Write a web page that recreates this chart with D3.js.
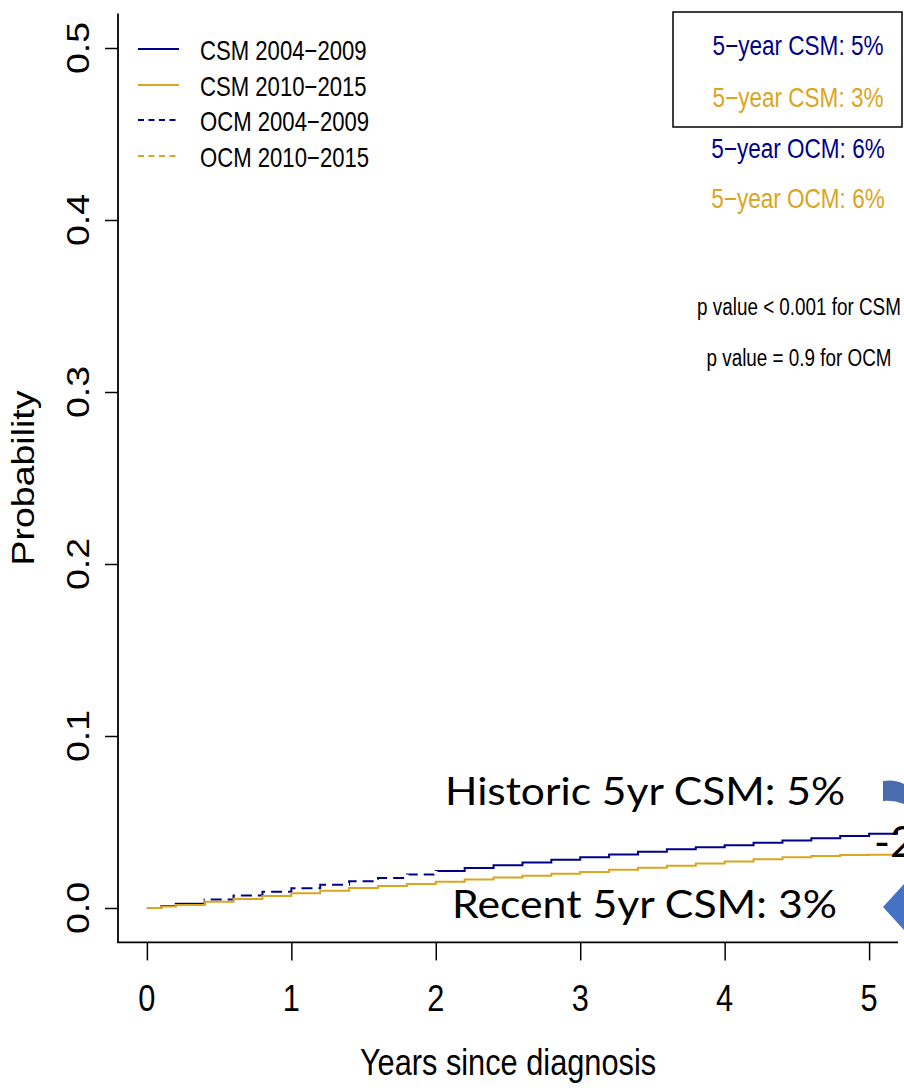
<!DOCTYPE html>
<html>
<head>
<meta charset="utf-8">
<script src="https://cdn.jsdelivr.net/npm/d3@7/dist/d3.min.js"></script>
<style>
  body { margin: 0; background: #fff; }
  svg { display: block; }
</style>
</head>
<body>
<svg width="904" height="1090"></svg>
<script>
// values (cumulative incidence, step curves)
var years   = [0, 0.1, 0.2, 0.4, 0.6, 0.8, 1.0, 1.2, 1.4, 1.6, 1.8, 2.0, 2.2, 2.4, 2.6,
               2.8, 3.0, 3.2, 3.4, 3.6, 3.8, 4.0, 4.2, 4.4, 4.6, 4.8, 5.0, 5.2, 5.4];
var csm0409 = [0, .0012, .0025, .0050, .0072, .0094, .0115, .0135, .0155, .0175, .0195, .0215, .0232, .0248, .0264,
               .0280, .0295, .0311, .0327, .0341, .0353, .0365, .0379, .0393, .0406, .0419, .0432, .0445, .0450];
var csm1015 = [0, .0009, .0018, .0036, .0053, .0070, .0086, .0101, .0116, .0128, .0140, .0153, .0165, .0177, .0188,
               .0199, .0210, .0222, .0234, .0246, .0258, .0270, .0283, .0295, .0303, .0308, .0310, .0312, .0312];
// years where the (white) OCM 2004-2009 dashes sit on top of the navy curve
var ocmOverlapYears = [0.4, 2.1];

var xTicks = [0, 1, 2, 3, 4, 5];
var yTicks = [0, 0.1, 0.2, 0.3, 0.4, 0.5];

var legendLabels = ["CSM 2004\u22122009", "CSM 2010\u22122015", "OCM 2004\u22122009", "OCM 2010\u22122015"];
var legendDashed = [false, false, true, true];
var boxTexts = ["5\u2212year CSM: 5%", "5\u2212year CSM: 3%", "5\u2212year OCM: 6%", "5\u2212year OCM: 6%"];
var pTexts = ["p value < 0.001 for CSM", "p value = 0.9 for OCM"];
var notes = ["Historic 5yr CSM: 5%", "Recent 5yr CSM: 3%"];

var navy = "#00008b", gold = "#daa520";
var seriesColors = [navy, gold, navy, gold];
var rFont = "'Liberation Sans', Arial, sans-serif";
var pptFont = "Lato, 'Open Sans', sans-serif";

var svg = d3.select("svg");

var x = d3.scaleLinear().domain([-0.2, 5.2]).range([118, 898]);
var y = d3.scaleLinear().domain([-0.02, 0.52]).range([942.4, 13.6]);

// the R picture was squeezed sideways, so every R text gets a scaleX
function rtext(sel, px, py, str, size, anchor, rotated, color) {
  return sel.append("g")
      .attr("transform", "translate(" + px + "," + py + ") scale(0.82,1)" + (rotated ? " rotate(-90)" : ""))
    .append("text")
      .attr("text-anchor", anchor)
      .attr("font-family", rFont)
      .attr("font-size", size)
      .attr("fill", color || "#000")
      .text(str);
}

svg.append("defs").append("clipPath").attr("id", "plotclip")
  .append("rect")
    .attr("x", x.range()[0]).attr("y", y.range()[1])
    .attr("width", x.range()[1] - x.range()[0])
    .attr("height", y.range()[0] - y.range()[1]);

// y axis
var yAxis = svg.append("g")
    .attr("transform", "translate(" + x.range()[0] + ",0)")
    .call(d3.axisLeft(y).tickValues(yTicks).tickSize(13).tickFormat(""));
yAxis.select(".domain").remove();
yAxis.selectAll(".tick line").attr("stroke-width", 1.5);

yTicks.forEach(function(v) {
  rtext(svg, 89, y(v), d3.format(".1f")(v), 37.5, "middle", true);
});

// x axis
var xAxis = svg.append("g")
    .attr("transform", "translate(0," + y.range()[0] + ")")
    .call(d3.axisBottom(x).tickValues(xTicks).tickSize(18).tickFormat(""));
xAxis.select(".domain").remove();
xAxis.selectAll(".tick line").attr("stroke-width", 1.5);

xTicks.forEach(function(v) {
  rtext(svg, x(v), 1011, String(v), 37.5, "middle", false);
});

// L shaped box
svg.append("path")
    .attr("d", "M" + x.range()[0] + "," + y.range()[1] + "V" + y.range()[0] + "H" + x.range()[1])
    .attr("fill", "none")
    .attr("stroke", "#000")
    .attr("stroke-width", 1.8);

rtext(svg, 34, (y.range()[0] + y.range()[1]) / 2, "Probability", 37.5, "middle", true);
rtext(svg, (x.range()[0] + x.range()[1]) / 2, 1075, "Years since diagnosis", 37.5, "middle", false);

// curves
var line = d3.line()
    .x(function(d) { return x(d[0]); })
    .y(function(d) { return y(d[1]); })
    .curve(d3.curveStepAfter);

var curves = svg.append("g").attr("clip-path", "url(#plotclip)");

var navyPts = years.map(function(t, i) { return [t, csm0409[i]]; });
var goldPts = years.map(function(t, i) { return [t, csm1015[i]]; });

curves.append("path")
    .attr("d", line(navyPts))
    .attr("fill", "none").attr("stroke", navy).attr("stroke-width", 2);

curves.append("path")
    .attr("d", line(navyPts.filter(function(d) { return d[0] >= ocmOverlapYears[0] && d[0] <= ocmOverlapYears[1]; })))
    .attr("fill", "none").attr("stroke", "#fff").attr("stroke-width", 3.5)
    .attr("stroke-dasharray", "6,11");

curves.append("path")
    .attr("d", line(goldPts))
    .attr("fill", "none").attr("stroke", gold).attr("stroke-width", 2);

// legend top-left
var legendRows = [49, 85, 120, 156];
legendLabels.forEach(function(lab, i) {
  svg.append("line")
      .attr("x1", 138).attr("x2", 179)
      .attr("y1", legendRows[i]).attr("y2", legendRows[i])
      .attr("stroke", seriesColors[i])
      .attr("stroke-width", 2)
      .attr("stroke-dasharray", legendDashed[i] ? "6,4.5" : null);
  rtext(svg, 200, legendRows[i] + 11, lab, 27, "start", false);
});

// 5-year box top-right
svg.append("rect")
    .attr("x", 673).attr("y", 12).attr("width", 229).attr("height", 115)
    .attr("fill", "none").attr("stroke", "#000").attr("stroke-width", 1.5);

var boxRows = [55, 107, 158, 208];
boxTexts.forEach(function(t, i) {
  rtext(svg, 798, boxRows[i], t, 27.5, "middle", false, seriesColors[i]);
});

rtext(svg, 799, 315, pTexts[0], 23, "middle", false);
rtext(svg, 799, 366, pTexts[1], 23, "middle", false);

// slide overlay
svg.append("text")
    .attr("x", 445).attr("y", 805)
    .attr("font-family", pptFont).attr("font-size", 38.5)
    .attr("textLength", 400).attr("lengthAdjust", "spacingAndGlyphs")
    .text(notes[0]);
svg.append("text")
    .attr("x", 452).attr("y", 918)
    .attr("font-family", pptFont).attr("font-size", 38.5)
    .attr("textLength", 385).attr("lengthAdjust", "spacingAndGlyphs")
    .text(notes[1]);

// the slide's "-2" label runs off the right edge in the original too
svg.append("text")
    .attr("x", 874).attr("y", 857)
    .attr("font-family", pptFont).attr("font-size", 43)
    .text("-2");

svg.append("path")
    .attr("d", "M883,781 Q895,779 904,784 L904,804 Q894,800 883,801 Z")
    .attr("fill", "#4a6db0");
svg.append("path")
    .attr("d", "M883,907 L904,884 L904,930 Z")
    .attr("fill", "#4472c4");
</script>
</body>
</html>
